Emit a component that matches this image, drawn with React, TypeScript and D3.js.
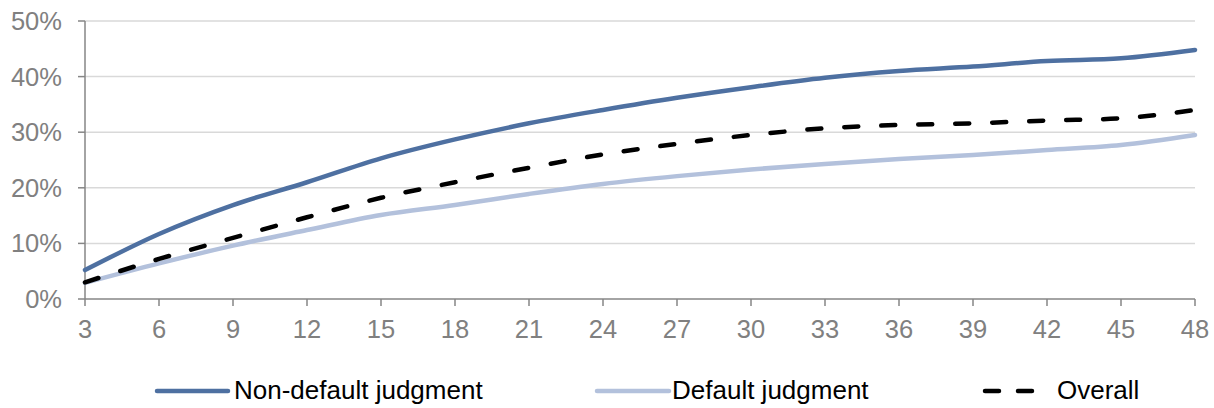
import React from "react";
import * as d3 from "d3";

const months = [3, 6, 9, 12, 15, 18, 21, 24, 27, 30, 33, 36, 39, 42, 45, 48];
const nonDefault = [5.2, 11.7, 16.9, 21.0, 25.3, 28.7, 31.6, 34.0, 36.2, 38.1, 39.8, 41.0, 41.8, 42.8, 43.3, 44.8];
const defaultJ = [2.9, 6.4, 9.6, 12.4, 15.1, 16.9, 18.9, 20.7, 22.1, 23.3, 24.3, 25.2, 25.9, 26.8, 27.7, 29.5];
const overall = [3.0, 7.2, 11.0, 14.7, 18.2, 21.0, 23.6, 26.0, 27.9, 29.5, 30.7, 31.3, 31.6, 32.1, 32.5, 34.0];
const yTicks = [0, 10, 20, 30, 40, 50];

const series = [
  { name: "Non-default judgment", values: nonDefault, color: "#4E70A1", dash: null },
  { name: "Default judgment", values: defaultJ, color: "#B3C1DC", dash: null },
  { name: "Overall", values: overall, color: "#000000", dash: "14 23" },
];

export default function App() {
  const W = 1214, H = 408;
  const x = d3.scaleLinear().domain([3, 48]).range([85, 1195]);
  const y = d3.scaleLinear().domain([0, 50]).range([299, 21]);
  const line = d3
    .line<number>()
    .x((_, i) => x(months[i]))
    .y((v) => y(v))
    .curve(d3.curveMonotoneX);
  const font = "'Liberation Sans', Arial, sans-serif";
  const legendItems = [
    { x1: 157, x2: 228, tx: 234 },
    { x1: 597, x2: 669, tx: 672 },
    { x1: 985, x2: 1040, tx: 1057 },
  ];
  return (
    <svg
      width={W}
      height={H}
      style={{ position: "absolute", left: 0, top: 0 }}
      fontFamily={font}
    >
      <rect width={W} height={H} fill="#fff" />
      {yTicks.slice(1).map((t) => (
        <line key={t} x1={85} x2={1195} y1={y(t)} y2={y(t)} stroke="#d9d9d9" strokeWidth={1.5} />
      ))}
      <line x1={85} x2={85} y1={y(50)} y2={y(0)} stroke="#868686" strokeWidth={1.5} />
      <line x1={85} x2={1195} y1={y(0)} y2={y(0)} stroke="#868686" strokeWidth={1.5} />
      {yTicks.map((t) => (
        <g key={t}>
          <line x1={78} x2={85} y1={y(t)} y2={y(t)} stroke="#868686" strokeWidth={1.5} />
          <text x={62} y={y(t)} dy="0.35em" textAnchor="end" fontSize={25.5} fill="#808080">
            {t}%
          </text>
        </g>
      ))}
      {months.map((m) => (
        <g key={m}>
          <line x1={x(m)} x2={x(m)} y1={y(0)} y2={y(0) + 7} stroke="#868686" strokeWidth={1.5} />
          <text x={x(m)} y={338} textAnchor="middle" fontSize={25.5} fill="#808080">
            {m}
          </text>
        </g>
      ))}
      {series.map((s) => (
        <path
          key={s.name}
          d={line(s.values) || ""}
          fill="none"
          stroke={s.color}
          strokeWidth={4.5}
          strokeDasharray={s.dash || undefined}
          strokeLinecap="round"
        />
      ))}
      {series.map((s, i) => (
        <g key={s.name}>
          <line
            x1={legendItems[i].x1}
            x2={legendItems[i].x2}
            y1={391}
            y2={391}
            stroke={s.color}
            strokeWidth={4.5}
            strokeDasharray={s.dash ? "14 19" : undefined}
            strokeLinecap="round"
          />
          <text x={legendItems[i].tx} y={399} fontSize={26} fill="#000">
            {s.name}
          </text>
        </g>
      ))}
    </svg>
  );
}
